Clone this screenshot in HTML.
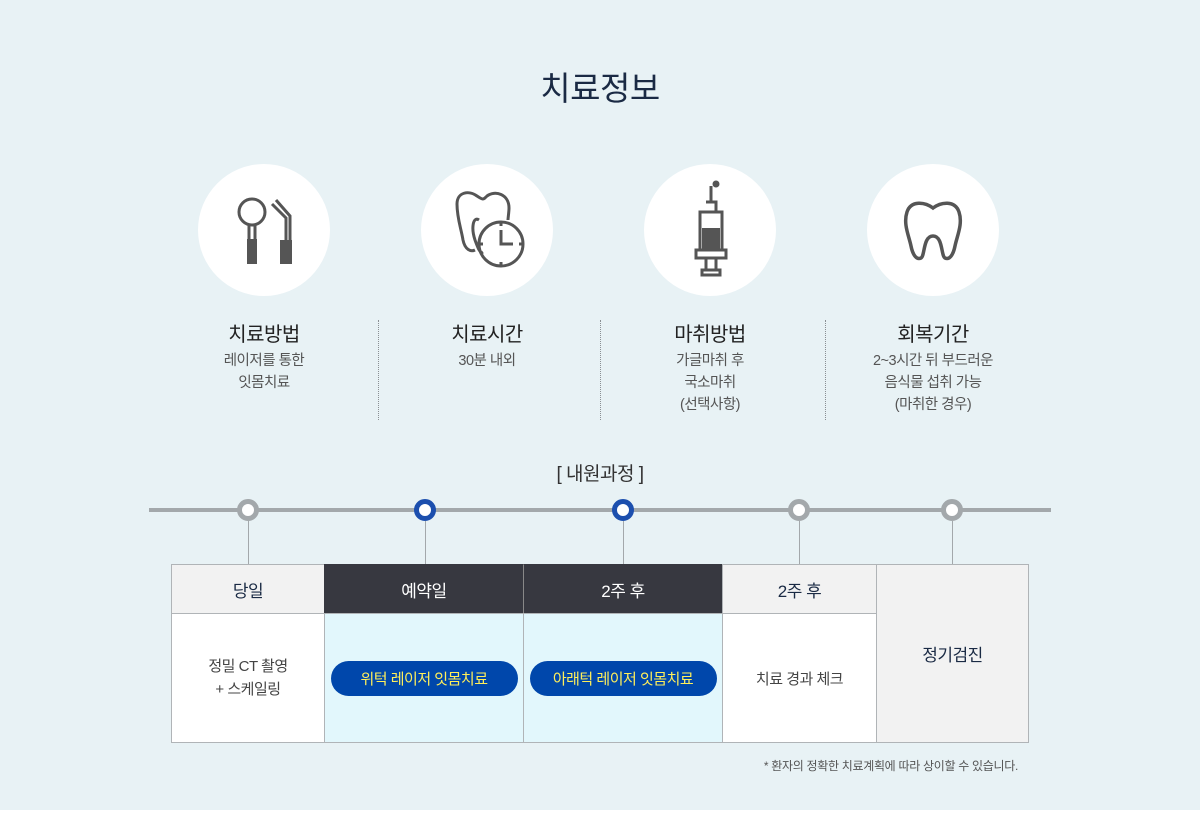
<!DOCTYPE html>
<html><head><meta charset="utf-8"><style>
*{margin:0;padding:0;box-sizing:border-box}
body{width:1200px;height:813px;background:#e8f2f5;font-family:"Liberation Sans","Noto Sans CJK KR",sans-serif;position:relative;overflow:hidden;letter-spacing:-0.5px}
.a{position:absolute}
.c{position:absolute;width:132px;height:132px;border-radius:50%;background:#fff;top:164px}
.t{position:absolute;width:220px;text-align:center;top:318px;font-size:20px;color:#222}
.s{position:absolute;width:220px;text-align:center;top:350px;font-size:14.5px;color:#555;line-height:22px}
.d{position:absolute;top:320px;height:100px;border-left:1.5px dotted #8a8f93}
.n{position:absolute;top:499px;width:22px;height:22px;border-radius:50%;background:#fff;border:5px solid #a3a8ab}
.n.b{border-color:#1c4fae}
.v{position:absolute;top:521px;height:43px;border-left:1px solid #a3a8ab}
.cell{position:absolute;display:flex;align-items:center;justify-content:center;text-align:center;border:1px solid #b0b4b7}
.h{top:564px;height:50px;font-size:17px}
.pill{background:#0047ab;color:#ffef5a;border-radius:18px;height:35px;width:187px;display:flex;align-items:center;justify-content:center;font-size:15px}
</style></head><body>
<div class="a" style="left:0;top:810px;width:1200px;height:3px;background:#fff"></div>
<div class="a" style="left:0;width:1200px;top:62px;text-align:center;font-size:33px;color:#1a2a44">치료정보</div>

<div class="c" style="left:198px"><svg width="132" height="132" viewBox="0 0 132 132" fill="none" stroke="#555" stroke-width="3"><circle cx="54" cy="48" r="13"/><path d="M51 61v14M57 61v14"/><rect x="49" y="75" width="10" height="25" fill="#555" stroke="none"/><path d="M74 40l14 14v22M78 36l14 16v24"/><rect x="82" y="76" width="12" height="24" fill="#555" stroke="none"/></svg></div>
<div class="c" style="left:421px"><svg width="132" height="132" viewBox="0 0 132 132" fill="none" stroke="#555" stroke-width="3"><path d="M58 56c-6-4-8 8-4 20 3 8 5 14 8 12M36 40c0-12 12-14 20-8 6 4 6 4 10 0 8-6 22-2 22 12 0 4-1 10-1 12M36 40c0 14 4 24 6 36 2 10 8 12 12 10"/><circle cx="80" cy="80" r="22"/><path d="M80 66v14h12M80 58v4M80 98v4M58 80h4M98 80h4"/></svg></div>
<div class="c" style="left:644px"><svg width="132" height="132" viewBox="0 0 132 132" fill="none" stroke="#555" stroke-width="3"><path d="M67 22v16M62 38h10v10M56 48h22v38H56z"/><rect x="58" y="64" width="18" height="22" fill="#555" stroke="none"/><rect x="52" y="86" width="30" height="8"/><path d="M62 94v12M72 94v12"/><rect x="58" y="106" width="18" height="5"/><circle cx="72" cy="20" r="2" fill="#555"/></svg></div>
<div class="c" style="left:867px"><svg width="132" height="132" viewBox="0 0 132 132" fill="none" stroke="#555" stroke-width="3.5"><path d="M66 44c-8-6-22-8-26 4-4 12 2 24 4 34 2 10 6 14 10 12 4-2 2-22 12-22s8 20 12 22c4 2 8-2 10-12 2-10 8-22 4-34-4-12-18-10-26-4z"/></svg></div>

<div class="t" style="left:154px">치료방법</div><div class="s" style="left:154px">레이저를 통한<br>잇몸치료</div>
<div class="t" style="left:377px">치료시간</div><div class="s" style="left:377px">30분 내외</div>
<div class="t" style="left:600px">마취방법</div><div class="s" style="left:600px">가글마취 후<br>국소마취<br>(선택사항)</div>
<div class="t" style="left:823px">회복기간</div><div class="s" style="left:823px">2~3시간 뒤 부드러운<br>음식물 섭취 가능<br>(마취한 경우)</div>
<div class="d" style="left:378px"></div><div class="d" style="left:600px"></div><div class="d" style="left:825px"></div>

<div class="a" style="left:0;width:1200px;top:459px;text-align:center;font-size:19px;color:#333">[ 내원과정 ]</div>
<div class="a" style="left:149px;top:508px;width:902px;height:4px;background:#a3a8ab"></div>
<div class="v" style="left:248px"></div><div class="v" style="left:425px"></div><div class="v" style="left:623px"></div><div class="v" style="left:799px"></div><div class="v" style="left:952px"></div>
<div class="n" style="left:237px"></div><div class="n b" style="left:414px"></div><div class="n b" style="left:612px"></div><div class="n" style="left:788px"></div><div class="n" style="left:941px"></div>

<div class="cell h" style="left:171px;width:154px;background:#f2f2f2;color:#1a2a44">당일</div>
<div class="cell h" style="left:324px;width:200px;background:#373840;color:#fff;border-color:#373840">예약일</div>
<div class="cell h" style="left:523px;width:200px;background:#373840;color:#fff;border-color:#373840;border-left-color:#888">2주 후</div>
<div class="cell h" style="left:722px;width:155px;background:#f2f2f2;color:#1a2a44">2주 후</div>
<div class="cell" style="left:876px;top:564px;width:153px;height:179px;background:#f2f2f2;color:#1a2a44;font-size:17px">정기검진</div>
<div class="cell" style="left:171px;top:613px;width:154px;height:130px;background:#fff;color:#444;font-size:15px;line-height:23px">정밀 CT 촬영<br>+ 스케일링</div>
<div class="cell" style="left:324px;top:613px;width:200px;height:130px;background:#e2f7fc"><div class="pill">위턱 레이저 잇몸치료</div></div>
<div class="cell" style="left:523px;top:613px;width:200px;height:130px;background:#e2f7fc"><div class="pill">아래턱 레이저 잇몸치료</div></div>
<div class="cell" style="left:722px;top:613px;width:155px;height:130px;background:#fff;color:#444;font-size:15px">치료 경과 체크</div>
<div class="a" style="right:182px;top:757px;font-size:12px;color:#555;letter-spacing:-0.3px">* 환자의 정확한 치료계획에 따라 상이할 수 있습니다.</div>
</body></html>
